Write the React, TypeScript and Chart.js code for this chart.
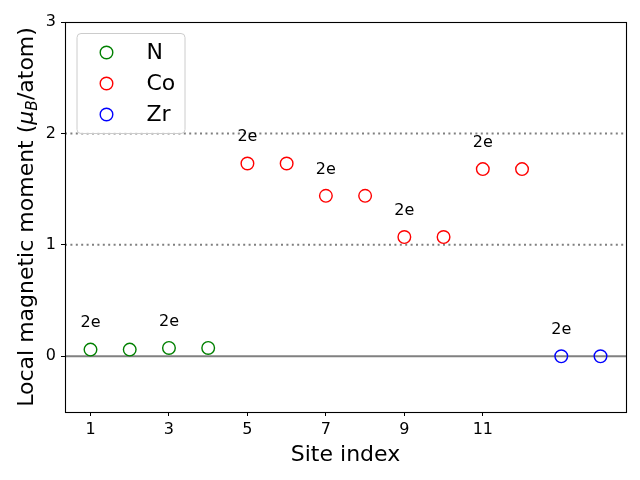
import React, { useEffect, useRef } from "react";
import { Chart, registerables } from "chart.js";

Chart.register(...registerables);

const nSites = [1, 2, 3, 4];
const nMoments = [0.06, 0.06, 0.075, 0.075];
const coSites = [5, 6, 7, 8, 9, 10, 11, 12];
const coMoments = [1.73, 1.73, 1.44, 1.44, 1.07, 1.07, 1.68, 1.68];
const zrSites = [13, 14];
const zrMoments = [0.0, 0.0];
const xTicks = [1, 3, 5, 7, 9, 11];
const yTicks = [0, 1, 2, 3];
const annotationSites = [1, 3, 5, 7, 9, 11, 13];
const annotationText = "2e";
const solidRefLines = [0];
const dottedRefLines = [1, 2];
const seriesNames = ["N", "Co", "Zr"];
const seriesColors = ["#008000", "#ff0000", "#0000ff"];

const FONT = '"DejaVu Sans", "Liberation Sans", sans-serif';

const allSites = [...nSites, ...coSites, ...zrSites];
const allMoments = [...nMoments, ...coMoments, ...zrMoments];

const decorPlugin = {
  id: "decor",
  beforeDatasetsDraw(chart: any) {
    const { ctx, chartArea: a, scales } = chart;
    const y = scales.y;
    ctx.save();
    ctx.beginPath();
    ctx.rect(a.left, a.top, a.right - a.left, a.bottom - a.top);
    ctx.clip();
    ctx.strokeStyle = "#808080";
    ctx.lineWidth = 2;
    solidRefLines.forEach((v) => {
      const py = y.getPixelForValue(v);
      ctx.setLineDash([]);
      ctx.beginPath();
      ctx.moveTo(a.left, py);
      ctx.lineTo(a.right, py);
      ctx.stroke();
    });
    dottedRefLines.forEach((v) => {
      const py = y.getPixelForValue(v);
      ctx.setLineDash([2, 3.4]);
      ctx.beginPath();
      ctx.moveTo(a.left, py);
      ctx.lineTo(a.right, py);
      ctx.stroke();
    });
    ctx.restore();
  },
  afterDraw(chart: any) {
    const { ctx, chartArea: a, scales } = chart;
    const x = scales.x;
    const y = scales.y;
    ctx.save();
    // annotations
    ctx.fillStyle = "#000";
    ctx.font = `16px ${FONT}`;
    ctx.textAlign = "center";
    ctx.textBaseline = "alphabetic";
    annotationSites.forEach((s) => {
      const idx = allSites.indexOf(s);
      const v = allMoments[idx];
      ctx.fillText(annotationText, x.getPixelForValue(s), y.getPixelForValue(v + 0.2));
    });
    // frame
    ctx.strokeStyle = "#000";
    ctx.lineWidth = 1.1;
    ctx.setLineDash([]);
    ctx.strokeRect(Math.round(a.left) + 0.5, Math.round(a.top) + 0.5, Math.round(a.right - a.left), Math.round(a.bottom - a.top));
    // x title
    ctx.font = `22px ${FONT}`;
    ctx.textAlign = "center";
    ctx.textBaseline = "alphabetic";
    ctx.fillText("Site index", (a.left + a.right) / 2, 461);
    // y title with subscript
    const parts = [
      { t: "Local magnetic moment (", f: `22px ${FONT}`, dy: 0 },
      { t: "μ", f: `italic 22px ${FONT}`, dy: 0 },
      { t: "B", f: `italic 15.4px ${FONT}`, dy: 4 },
      { t: "/atom)", f: `22px ${FONT}`, dy: 0 },
    ];
    let total = 0;
    const widths = parts.map((p) => {
      ctx.font = p.f;
      const w = ctx.measureText(p.t).width;
      total += w;
      return w;
    });
    ctx.translate(33, (a.top + a.bottom) / 2);
    ctx.rotate(-Math.PI / 2);
    ctx.textAlign = "left";
    let cx = -total / 2;
    parts.forEach((p, i) => {
      ctx.font = p.f;
      ctx.fillText(p.t, cx, p.dy);
      cx += widths[i];
    });
    ctx.restore();

    // legend
    ctx.save();
    const lx = a.left + 11.5;
    const ly = a.top + 11;
    const lw = 108;
    const lh = 100;
    ctx.beginPath();
    ctx.roundRect(lx + 0.5, ly + 0.5, lw, lh, 4);
    ctx.fillStyle = "rgba(255,255,255,0.8)";
    ctx.fill();
    ctx.strokeStyle = "#cccccc";
    ctx.lineWidth = 1;
    ctx.stroke();
    ctx.font = `22px ${FONT}`;
    ctx.textAlign = "left";
    ctx.textBaseline = "middle";
    seriesNames.forEach((name, i) => {
      const cy = ly + 19.5 + i * 31;
      ctx.beginPath();
      ctx.arc(lx + 30, cy, 6.3, 0, Math.PI * 2);
      ctx.strokeStyle = seriesColors[i];
      ctx.lineWidth = 1.4;
      ctx.stroke();
      ctx.fillStyle = "#000";
      ctx.fillText(name, lx + 70, cy + 1);
    });
    ctx.restore();
  },
};

export default function App() {
  const ref = useRef<HTMLCanvasElement>(null);
  useEffect(() => {
    document.body.style.margin = "0";
    const mk = (sites: number[], vals: number[]) => sites.map((s, i) => ({ x: s, y: vals[i] }));
    const chart = new Chart(ref.current as HTMLCanvasElement, {
      type: "scatter",
      data: {
        datasets: [
          { label: seriesNames[0], data: mk(nSites, nMoments), borderColor: seriesColors[0] },
          { label: seriesNames[1], data: mk(coSites, coMoments), borderColor: seriesColors[1] },
          { label: seriesNames[2], data: mk(zrSites, zrMoments), borderColor: seriesColors[2] },
        ].map((d) => ({
          ...d,
          backgroundColor: "rgba(0,0,0,0)",
          pointRadius: 6.3,
          pointBorderWidth: 1.4,
          pointHoverRadius: 6.3,
          showLine: false,
        })),
      },
      options: {
        responsive: false,
        animation: false,
        devicePixelRatio: 1,
        layout: { padding: { left: 0, top: 22, right: 14, bottom: 0 } },
        plugins: { legend: { display: false }, tooltip: { enabled: false } },
        scales: {
          x: {
            type: "linear",
            min: 0.35,
            max: 14.65,
            afterBuildTicks: (s: any) => {
              s.ticks = xTicks.map((v) => ({ value: v }));
            },
            afterFit: (s: any) => {
              s.height = 68;
            },
            grid: { drawOnChartArea: false, drawTicks: true, tickLength: 4, color: "#000" },
            border: { display: false },
            ticks: { color: "#000", font: { family: FONT, size: 16 }, padding: 4, maxRotation: 0, autoSkip: false },
          },
          y: {
            type: "linear",
            min: -0.5,
            max: 3,
            afterBuildTicks: (s: any) => {
              s.ticks = yTicks.map((v) => ({ value: v }));
            },
            afterFit: (s: any) => {
              s.width = 65;
            },
            grid: { drawOnChartArea: false, drawTicks: true, tickLength: 4, color: "#000" },
            border: { display: false },
            ticks: { color: "#000", font: { family: FONT, size: 16 }, padding: 5, autoSkip: false },
          },
        },
      },
      plugins: [decorPlugin],
    } as any);
    return () => chart.destroy();
  }, []);
  return (
    <div style={{ position: "absolute", left: 0, top: 0, width: 640, height: 480 }}>
      <canvas ref={ref} width={640} height={480} />
    </div>
  );
}
